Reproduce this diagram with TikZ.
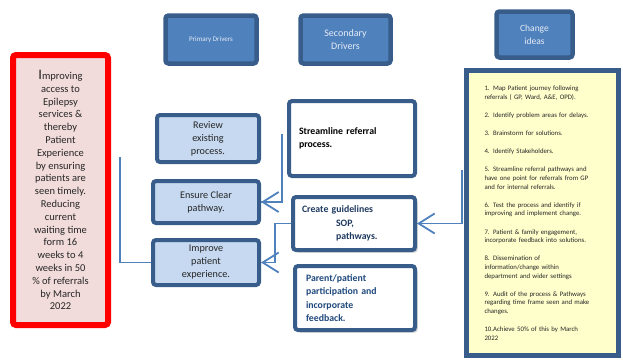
\documentclass[tikz,border=0pt]{standalone}
\usepackage{fontspec}
\setmainfont{Carlito}
\usetikzlibrary{arrows.meta,shadows}
\definecolor{dblue}{HTML}{385D8A}
\definecolor{mblue}{HTML}{4F81BD}
\definecolor{lblue}{HTML}{C6D9F1}
\definecolor{pinkfill}{HTML}{F2DCDB}
\definecolor{yellowfill}{HTML}{FFFFCC}
\definecolor{navytext}{HTML}{1F3A60}
\definecolor{bluetext}{HTML}{1F497D}
\definecolor{headtext}{HTML}{E6ECF5}
\tikzset{
  headbox/.style={draw=dblue, fill=mblue, line width=4.5pt, rounded corners=3pt, inner sep=0pt, align=center, text=headtext},
  driverbox/.style={draw=dblue, fill=lblue, line width=4pt, rounded corners=3pt, inner sep=0pt, align=center, text=black!85,
     font=\fontsize{10.2}{13}\selectfont},
  secbox/.style={draw=dblue, fill=white, line width=4pt, rounded corners=3pt, inner sep=0pt, align=left},
  shadowbox/.style={secbox, drop shadow={shadow xshift=2.5pt, shadow yshift=-2.5pt, opacity=0.35, fill=black!60}},
  conn/.style={draw=mblue, line width=1.8pt},
  arr/.style={conn, -{Straight Barb[length=16pt,width=20pt,line width=1.8pt]}},
}
\begin{document}
\begin{tikzpicture}[x=1pt,y=-1pt]
\useasboundingbox (0,0) rectangle (623,360);

% header boxes
\node[headbox, minimum width=91pt, minimum height=48pt, font=\fontsize{7}{8}\selectfont] (primary) at (211,39.5) {Primary Drivers};
\node[headbox, minimum width=90pt, minimum height=48pt, font=\fontsize{10}{13}\selectfont] (secondary) at (345.5,39.5) {Secondary\\Drivers};
\node[headbox, minimum width=76pt, minimum height=46pt, font=\fontsize{9.5}{13}\selectfont] (change) at (534.5,34.5) {Change\\ideas};

% aim box
\node[draw=red, fill=pinkfill, line width=6pt, rounded corners=3pt, inner sep=0pt, minimum width=95pt, minimum height=270pt,
      align=center, text=black!85, font=\fontsize{10.5}{12.8}\selectfont] (aim) at (60.5,190)
 {{\fontsize{14.5}{12.8}\selectfont I}mproving\\access to\\Epilepsy\\services \&\\thereby\\Patient\\Experience\\by ensuring\\patients are\\seen timely.\\Reducing\\current\\waiting time\\form 16\\weeks to 4\\weeks in 50\\\% of referrals\\by March\\2022};

% primary drivers
\node[driverbox, minimum width=102pt, minimum height=47pt] (review) at (208,138.5) {Review\\existing\\process.};
\node[driverbox, minimum width=106pt, minimum height=42pt] (ensure) at (206,202) {Ensure Clear\\pathway.};
\node[driverbox, minimum width=106pt, minimum height=45pt] (improve) at (206,262.5) {Improve\\patient\\experience.};

% secondary drivers
\node[secbox, minimum width=126pt, minimum height=75pt, text width=106pt, font=\bfseries\fontsize{9.8}{13}\selectfont] (stream) at (352,138.5) {Streamline referral\\process.};
\node[shadowbox, minimum width=122pt, minimum height=53pt, text width=104pt, text=navytext, font=\bfseries\fontsize{9.8}{13.5}\selectfont] (create) at (354,223.5) {Create guidelines\\\hspace*{34pt}SOP,\\\hspace*{34pt}pathways.};
\node[shadowbox, minimum width=120pt, minimum height=64pt, text width=98pt, text=bluetext, font=\bfseries\fontsize{9.8}{13.2}\selectfont] (parent) at (355,298) {Parent/patient\\participation and\\incorporate\\feedback.};

% change ideas list
\coordinate (ystart) at (462,170);
\draw[conn] (ystart) |- (create.east);
\draw[arr] (ystart |- create.east) -- (create.east);
\node[draw=dblue, fill=yellowfill, line width=4.5pt, inner sep=0pt, minimum width=152pt, minimum height=285pt,
      text width=116pt, align=left, text=black!85, font=\fontsize{6.8}{8.6}\selectfont] (ideas) at (542.5,213)
 {1. Map Patient journey following\\referrals ( GP, Ward, A\&E, OPD).\\[9.6pt]
  2. Identify problem areas for delays.\\[9.6pt]
  3. Brainstorm for solutions.\\[9.6pt]
  4. Identify Stakeholders.\\[9.6pt]
  5. Streamline referral pathways and\\have one point for referrals from GP\\and for internal referrals.\\[9.6pt]
  6. Test the process and identify if\\improving and implement change.\\[9.6pt]
  7. Patient \& family engagement,\\incorporate feedback into solutions.\\[9.6pt]
  8. Dissemination of\\information/change within\\department and wider settings\\[9.6pt]
  9. Audit of the process \& Pathways\\regarding time frame seen and make\\changes.\\[9.6pt]
  10.Achieve 50\% of this by March\\2022};

% connectors
\coordinate (lstart) at (120,157);
\draw[conn] (lstart) |- (improve.west);
\coordinate (sstart) at (282,134);
\draw[conn] (sstart) |- (ensure.east);
\draw[arr] (sstart |- ensure.east) -- (ensure.east);
\coordinate (cturn) at (275,223.5);
\draw[conn] (create.west) -- (cturn) |- (improve.east);
\draw[arr] (cturn |- improve.east) -- (improve.east);
\end{tikzpicture}
\end{document}
